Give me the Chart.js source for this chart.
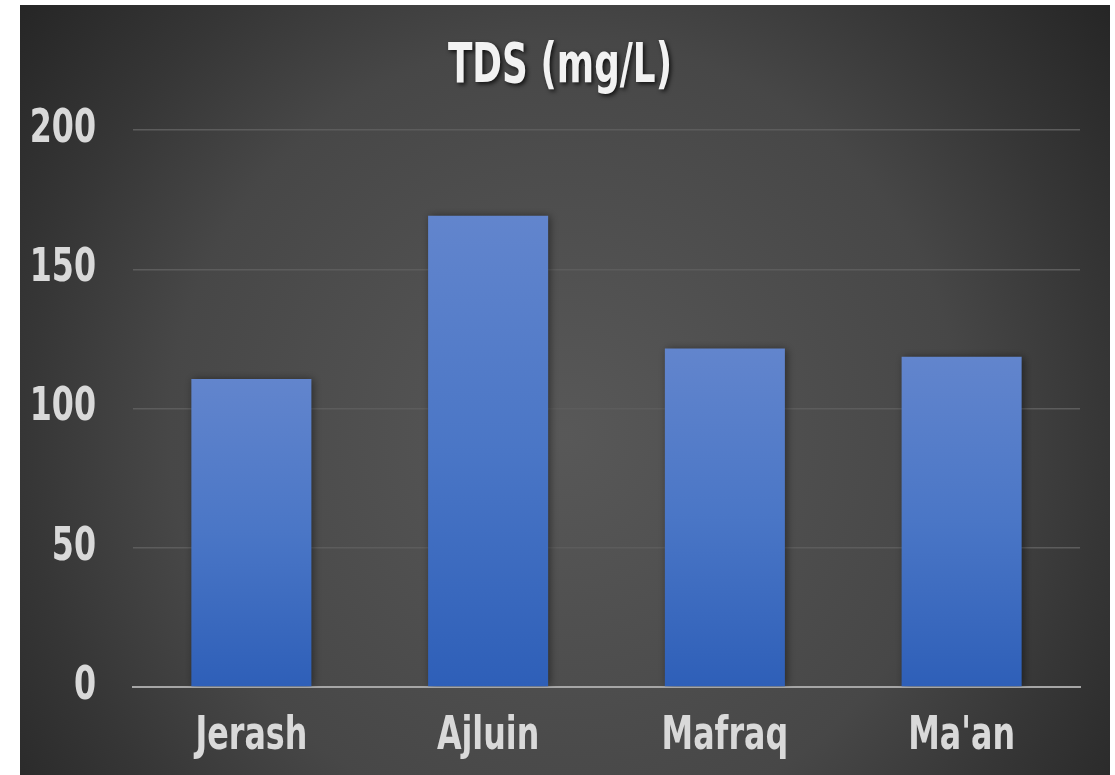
<!DOCTYPE html>
<html lang="en">
<head>
  <meta charset="UTF-8" />
  <title>TDS (mg/L)</title>
  <style>
    body {
      margin: 0;
      background: #ffffff;
    }
    .wrap {
      position: absolute;
      left: 20px;
      top: 5px;
      width: 1090px;
      height: 770px;
    }
  </style>
  <script src="https://cdn.jsdelivr.net/npm/chart.js"></script>
</head>
<body>

<div class="wrap">
  <canvas id="tdsChart" width="1090" height="770"></canvas>
</div>

<script>
  const categories = ["Jerash", "Ajluin", "Mafraq", "Ma'an"];
  const tdsValues = [110.6, 169.2, 121.5, 118.6];
  const yTicks = [0, 50, 100, 150, 200];

  const FONT = "'DejaVu Sans', sans-serif";
  const TITLE_SQUEEZE = 0.64;  // fake a condensed face
  const TICK_SQUEEZE = 0.69;

  // squeeze tick labels horizontally, keeping each label anchored where the scale put it
  function squeezeLabels(scale, s) {
    if (scale._squeezed) return;
    const origItems = scale.getLabelItems;
    const origArea = scale._computeLabelArea;
    const origDraw = scale.drawLabels;
    scale.drawLabels = function (area) {
      const ctx = this.ctx;
      this.getLabelItems = function (a) {
        return origItems.call(this, a).map(it => Object.assign({}, it, {
          options: Object.assign({}, it.options, {
            translation: [it.options.translation[0] / s, it.options.translation[1]]
          })
        }));
      };
      this._computeLabelArea = function () {
        const r = origArea.call(this);
        if (!r) return r;
        return { top: r.top, bottom: r.bottom, left: 0, right: r.right / s };
      };
      ctx.save();
      ctx.scale(s, 1);
      origDraw.call(this, area);
      ctx.restore();
      delete this.getLabelItems;
      delete this._computeLabelArea;
    };
    scale._squeezed = true;
  }

  // dark radial backdrop like the office theme
  const backdrop = {
    id: 'backdrop',
    afterUpdate(chart) {
      squeezeLabels(chart.scales.x, TICK_SQUEEZE);
      squeezeLabels(chart.scales.y, TICK_SQUEEZE);
    },
    beforeDraw(chart) {
      const { ctx, width, height } = chart;
      const g = ctx.createRadialGradient(545, 430, 0, 545, 430, 720);
      g.addColorStop(0, '#585858');
      g.addColorStop(0.55, '#474747');
      g.addColorStop(0.75, '#363636');
      g.addColorStop(1, '#232323');
      ctx.save();
      ctx.fillStyle = g;
      ctx.fillRect(0, 0, width, height);
      ctx.restore();

      // title: soft shadow + horizontal squeeze
      const tb = chart.titleBlock;
      if (tb && !tb._shadowed) {
        const orig = tb.draw.bind(tb);
        tb.draw = function () {
          const c = this.ctx;
          const cx = (this.left + this.right) / 2;
          c.save();
          c.translate(cx, 0);
          c.scale(TITLE_SQUEEZE, 1);
          c.translate(-cx, 0);
          c.shadowColor = 'rgba(0,0,0,0.75)';
          c.shadowBlur = 4;
          c.shadowOffsetX = 2;
          c.shadowOffsetY = 2;
          orig();
          c.restore();
        };
        tb._shadowed = true;
      }
    }
  };

  const barShadow = {
    id: 'barShadow',
    beforeDatasetsDraw(chart) {
      const ctx = chart.ctx;
      ctx.save();
      ctx.shadowColor = 'rgba(0,0,0,0.45)';
      ctx.shadowBlur = 8;
      ctx.shadowOffsetX = 2;
      ctx.shadowOffsetY = 0;
    },
    afterDatasetsDraw(chart) {
      chart.ctx.restore();
    }
  };

  function barFill(context) {
    const chart = context.chart;
    const y = chart.scales.y;
    if (!y || context.parsed === undefined) return '#4472c4';
    const top = y.getPixelForValue(context.parsed.y);
    const bottom = y.getPixelForValue(0);
    if (!isFinite(top) || !isFinite(bottom) || top === bottom) return '#4472c4';
    const g = chart.ctx.createLinearGradient(0, top, 0, bottom);
    g.addColorStop(0, '#6285cd');
    g.addColorStop(0.5, '#4a76c6');
    g.addColorStop(1, '#2e5fb8');
    return g;
  }

  new Chart(document.getElementById('tdsChart'), {
    type: 'bar',
    data: {
      labels: categories,
      datasets: [{
        label: 'TDS (mg/L)',
        data: tdsValues,
        backgroundColor: barFill,
        borderWidth: 0,
        categoryPercentage: 1,
        barPercentage: 0.507
      }]
    },
    plugins: [backdrop, barShadow],
    options: {
      responsive: false,
      animation: false,
      layout: {
        padding: { left: 20, right: 30, top: 0, bottom: 0 }
      },
      plugins: {
        legend: { display: false },
        tooltip: { enabled: false },
        title: {
          display: true,
          text: 'TDS (mg/L)',
          color: '#f2f2f2',
          font: { family: FONT, size: 56, weight: 'bold', lineHeight: 1 },
          padding: { top: 34.5, bottom: 34.5 }
        }
      },
      scales: {
        x: {
          grid: { display: false, drawTicks: false },
          border: { display: true, color: '#a6a6a6', width: 2 },
          ticks: {
            color: '#d9d9d9',
            font: { family: FONT, size: 46, weight: 'bold' },
            padding: 22
          },
          afterFit(scale) { scale.height = 88; }
        },
        y: {
          min: 0,
          max: 200,
          afterBuildTicks(scale) {
            scale.ticks = yTicks.map(v => ({ value: v }));
          },
          grid: {
            drawTicks: false,
            lineWidth: 1.5,
            color: ctx => (ctx.tick && ctx.tick.value === 0) ? 'rgba(0,0,0,0)' : '#5c5c5c'
          },
          border: { display: false },
          ticks: {
            color: '#d9d9d9',
            font: { family: FONT, size: 46, weight: 'bold' },
            padding: 37
          },
          afterFit(scale) { scale.width = 93; }
        }
      }
    }
  });
</script>

</body>
</html>
